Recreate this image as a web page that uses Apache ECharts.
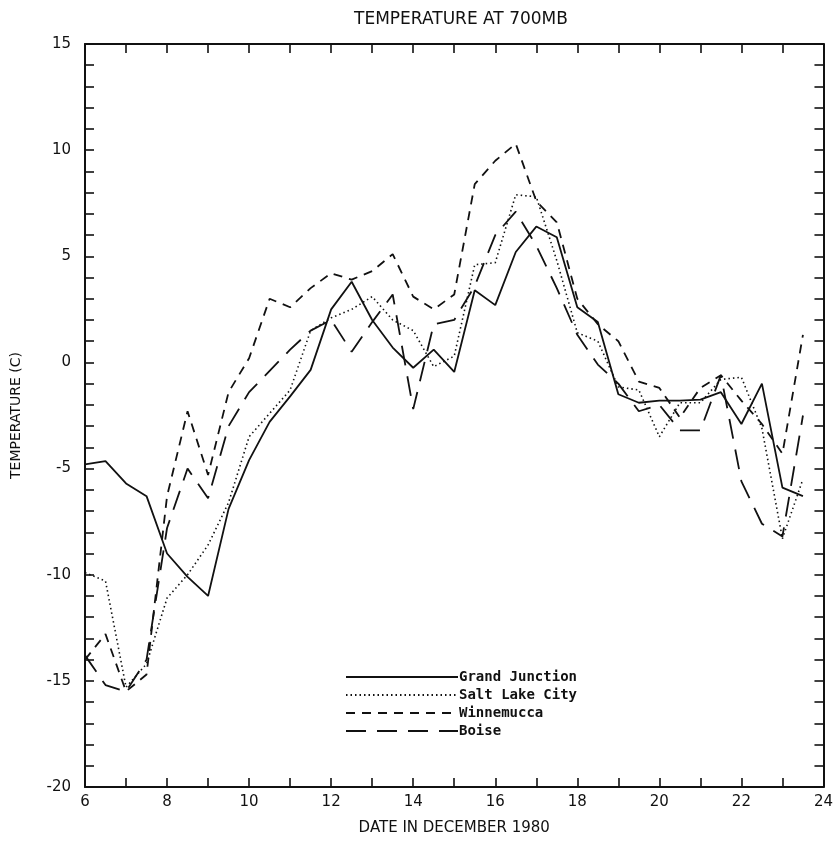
<!DOCTYPE html>
<html>
<head>
<meta charset="utf-8">
<script src="https://cdn.jsdelivr.net/npm/echarts@6/dist/echarts.min.js"></script>
<style>
  html, body { margin: 0; padding: 0; background: #fff; }
  #chart { width: 836px; height: 842px; }
</style>
</head>
<body>
<div id="chart"></div>
<script>
// days in December 1980, twice-daily soundings
const days = [6, 6.5, 7, 7.5, 8, 8.5, 9, 9.5, 10, 10.5, 11, 11.5, 12, 12.5, 13, 13.5, 14, 14.5,
  15, 15.5, 16, 16.5, 17, 17.5, 18, 18.5, 19, 19.5, 20, 20.5, 21, 21.5, 22, 22.5, 23, 23.5];

const grandJunction = [-4.8, -4.65, -5.7, -6.3, -9.0, -10.1, -11.0, -6.9, -4.6, -2.8, -1.6, -0.35,
  2.5, 3.8, 2.0, 0.7, -0.25, 0.6, -0.45, 3.4, 2.7, 5.2, 6.4, 5.9, 2.6, 1.9, -1.5, -1.9, -1.8, -1.8,
  -1.75, -1.4, -2.9, -1.0, -5.9, -6.3];
const saltLakeCity = [-9.9, -10.3, -15.3, -14.2, -11.1, -10.0, -8.6, -6.6, -3.5, -2.4, -1.3, 1.5,
  2.1, 2.5, 3.1, 2.0, 1.5, -0.2, 0.3, 4.6, 4.7, 7.9, 7.8, 4.8, 1.4, 1.0, -1.15, -1.3, -3.5, -1.9,
  -1.9, -0.8, -0.7, -3.1, -8.3, -5.5];
const winnemucca = [-14.0, -12.8, -15.5, -14.7, -6.3, -2.3, -5.3, -1.4, 0.2, 3.0, 2.6, 3.5,
  4.2, 3.9, 4.3, 5.1, 3.1, 2.5, 3.2, 8.4, 9.5, 10.3, 7.6, 6.6, 3.0, 1.8, 1.0, -0.9, -1.2, -2.6,
  -1.2, -0.6, -1.8, -2.9, -4.3, 1.3];
const boise = [-13.8, -15.2, -15.5, -14.0, -7.8, -5.0, -6.4, -3.0, -1.4, -0.4, 0.6, 1.5,
  2.0, 0.5, 1.9, 3.2, -2.2, 1.8, 2.0, 3.6, 6.0, 7.1, 5.5, 3.5, 1.3, -0.1, -1.0, -2.3, -2.0, -3.2,
  -3.2, -0.6, -5.6, -7.6, -8.2, -2.5];

const yTicks = [-20, -15, -10, -5, 0, 5, 10, 15];

const ink = '#111';
const font = 'DejaVu Sans';

function pairs(vals) {
  return days.map((d, i) => [d, vals[i]]);
}

function line(name, vals, type, width) {
  return {
    name: name,
    type: 'line',
    data: pairs(vals),
    symbol: 'none',
    silent: true,
    animation: false,
    lineStyle: { color: ink, width: width, type: type },
    itemStyle: { color: ink }
  };
}

const chart = echarts.init(document.getElementById('chart'));

const tickStyle = { show: true, inside: true, length: 9, lineStyle: { color: ink, width: 1.6 } };
const axisLine = { show: true, onZero: false, lineStyle: { color: ink, width: 2 } };

chart.setOption({
  backgroundColor: '#fff',
  animation: false,
  title: {
    text: 'TEMPERATURE AT 700MB',
    left: 456, top: 6, textAlign: 'center',
    textStyle: { fontFamily: font, fontWeight: 'normal', fontSize: 17, color: ink }
  },
  grid: { left: 85, right: 9, top: 44, bottom: 55 },
  legend: {
    orient: 'vertical',
    left: 340, top: 665,
    itemWidth: 112, itemHeight: 12, itemGap: 4,
    selectedMode: false,
    itemStyle: { color: 'transparent', borderColor: 'transparent', borderWidth: 0 },
    textStyle: { fontFamily: 'DejaVu Sans Mono', fontWeight: 'bold', fontSize: 14, color: ink, padding: [0, 0, 0, -4] },
    data: ['Grand Junction', 'Salt Lake City', 'Winnemucca', 'Boise']
  },
  xAxis: [{
    type: 'value', min: 6, max: 24, interval: 1,
    name: 'DATE IN DECEMBER 1980', nameLocation: 'middle', nameGap: 34,
    nameTextStyle: { fontFamily: font, fontSize: 15, color: ink },
    axisLine: axisLine, axisTick: tickStyle, splitLine: { show: false },
    axisLabel: {
      fontFamily: font, fontSize: 15, color: ink, margin: 8,
      formatter: v => (v % 2 === 0 ? String(v) : '')
    }
  }, {
    type: 'value', min: 6, max: 24, interval: 1, position: 'top',
    axisLine: axisLine, axisTick: tickStyle, splitLine: { show: false },
    axisLabel: { show: false }
  }],
  yAxis: [{
    type: 'value', min: -20, max: 15, interval: 1,
    name: 'TEMPERATURE (C)', nameLocation: 'middle', nameGap: 62, nameRotate: 90,
    nameTextStyle: { fontFamily: font, fontSize: 14, color: ink },
    axisLine: axisLine, axisTick: tickStyle, splitLine: { show: false },
    axisLabel: {
      fontFamily: font, fontSize: 15, color: ink, margin: 14,
      formatter: v => (yTicks.indexOf(v) >= 0 ? String(v) : '')
    }
  }, {
    type: 'value', min: -20, max: 15, interval: 1, position: 'right',
    axisLine: axisLine, axisTick: tickStyle, splitLine: { show: false },
    axisLabel: { show: false }
  }],
  series: [
    line('Grand Junction', grandJunction, 'solid', 1.8),
    line('Salt Lake City', saltLakeCity, [1.5, 3], 1.6),
    line('Winnemucca', winnemucca, [9, 7], 1.8),
    line('Boise', boise, [20, 11], 1.8)
  ]
});
</script>
</body>
</html>
